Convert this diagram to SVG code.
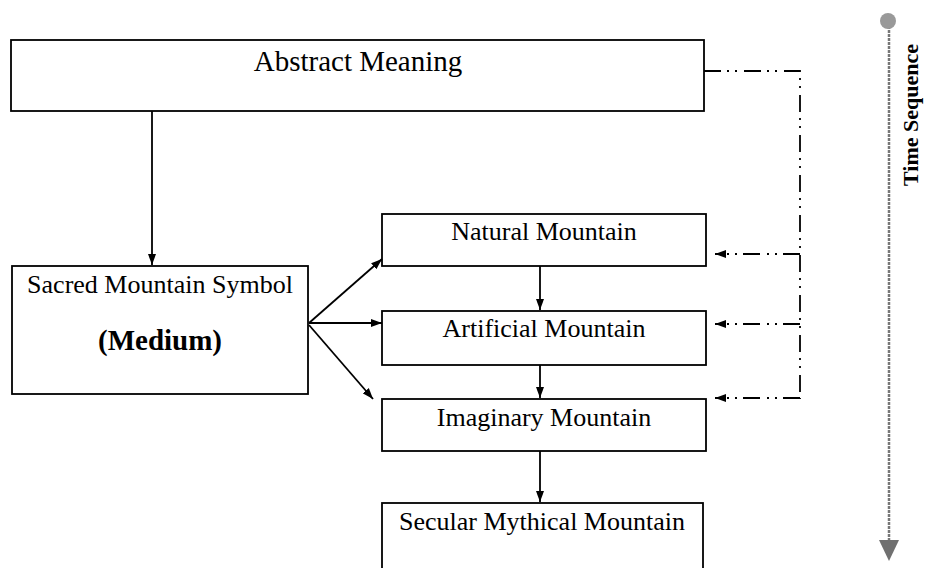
<svg xmlns="http://www.w3.org/2000/svg" width="925" height="568" viewBox="0 0 925 568">
<style>
.box{fill:#fff;stroke:#000;stroke-width:1.8}
.t{font-family:"Liberation Serif","Times New Roman",serif;font-size:26px;fill:#000;text-anchor:middle}
.b{font-weight:bold}
.ln{stroke:#000;stroke-width:1.8;fill:none}
.dd{stroke:#000;stroke-width:1.8;fill:none;stroke-dasharray:17 6 2 6 2 7}
</style>
<defs>
<marker id="ah" markerWidth="12" markerHeight="10" refX="11" refY="5" orient="auto" markerUnits="userSpaceOnUse">
<path d="M0,1 L11,5 L0,9 Z" fill="#000"/>
</marker>
</defs>
<rect width="925" height="568" fill="#fff"/>
<g id="abstract"><rect class="box" x="11" y="40" width="693" height="71"/><text class="t" x="358" y="71" style="font-size:29px">Abstract Meaning</text></g>
<g id="sacred"><rect class="box" x="12" y="266" width="296" height="128"/><text class="t" x="160" y="293">Sacred Mountain Symbol</text><text class="t b" x="160" y="350" style="font-size:29px">(Medium)</text></g>
<g id="natural"><rect class="box" x="382" y="214" width="324" height="52"/><text class="t" x="544" y="240">Natural Mountain</text></g>
<g id="artificial"><rect class="box" x="382" y="311" width="324" height="54"/><text class="t" x="544" y="337">Artificial Mountain</text></g>
<g id="imaginary"><rect class="box" x="382" y="399" width="324" height="52"/><text class="t" x="544" y="426">Imaginary Mountain</text></g>
<g id="secular"><rect class="box" x="382" y="503" width="321" height="70"/><text class="t" x="542" y="530">Secular Mythical Mountain</text></g>
<g id="connectors">
<line class="ln" x1="152" y1="111" x2="152" y2="265" marker-end="url(#ah)"/>
<line class="ln" x1="309" y1="323" x2="382" y2="259" marker-end="url(#ah)"/>
<line class="ln" x1="309" y1="323" x2="382" y2="323" marker-end="url(#ah)"/>
<line class="ln" x1="309" y1="325" x2="373" y2="399" marker-end="url(#ah)"/>
<line class="ln" x1="540" y1="266" x2="540" y2="310" marker-end="url(#ah)"/>
<line class="ln" x1="540" y1="365" x2="540" y2="398" marker-end="url(#ah)"/>
<line class="ln" x1="540" y1="451" x2="540" y2="502" marker-end="url(#ah)"/>
<path class="dd" d="M704,71 H800 V399"/>
<line class="dd" x1="800" y1="254" x2="715" y2="254" marker-end="url(#ah)"/>
<line class="dd" x1="800" y1="324" x2="715" y2="324" marker-end="url(#ah)"/>
<line class="dd" x1="800" y1="398" x2="715" y2="398" marker-end="url(#ah)"/>
</g>
<g id="time">
<line x1="889" y1="22" x2="889" y2="540" stroke="#777" stroke-width="2.5" stroke-dasharray="3 1"/>
<circle cx="888" cy="21" r="8" fill="#999"/>
<path d="M879,540 L899,540 L889,561 Z" fill="#707070"/>
<text class="t b" transform="translate(918,115) rotate(-90)" style="font-size:22px">Time Sequence</text>
</g>
</svg>
